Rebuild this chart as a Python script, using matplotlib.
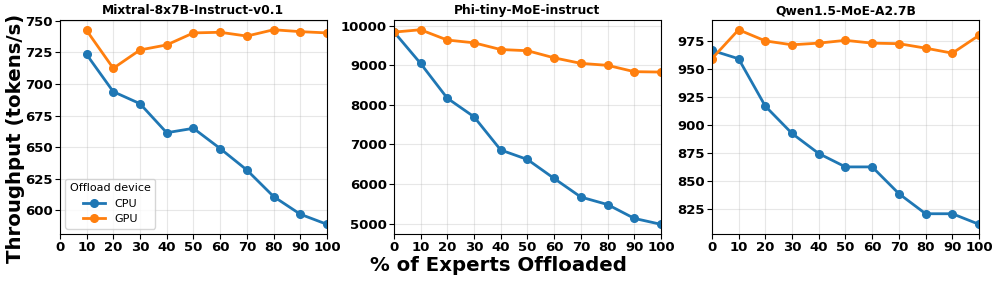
import matplotlib
matplotlib.use("Agg")
import matplotlib.pyplot as plt

# % of experts offloaded
x_mixtral = [10, 20, 30, 40, 50, 60, 70, 80, 90, 100]
x_full = [0, 10, 20, 30, 40, 50, 60, 70, 80, 90, 100]

# throughput (tokens/s)
mixtral_cpu = [723.5, 694, 684.5, 661.5, 665, 649, 632, 611, 597, 589]
mixtral_gpu = [742.5, 712.5, 727, 731, 740.5, 741, 738, 743, 741.5, 740.5]

phi_cpu = [9850, 9050, 8170, 7700, 6860, 6620, 6140, 5670, 5480, 5130, 4980]
phi_gpu = [9840, 9900, 9640, 9570, 9400, 9370, 9190, 9050, 9000, 8840, 8830]

qwen_cpu = [967, 959.5, 917, 892.5, 874.5, 862.5, 862.5, 838.5, 820.5, 820.5, 811]
qwen_gpu = [959.5, 985.5, 975.5, 972, 973.5, 976, 973.5, 973, 969, 964.5, 980.5]

titles = ["Mixtral-8x7B-Instruct-v0.1", "Phi-tiny-MoE-instruct", "Qwen1.5-MoE-A2.7B"]
xs = [x_mixtral, x_full, x_full]
cpus = [mixtral_cpu, phi_cpu, qwen_cpu]
gpus = [mixtral_gpu, phi_gpu, qwen_gpu]

fig = plt.figure(figsize=(9.97, 2.82), dpi=100)
lefts = [0.060, 0.395, 0.714]
axes = [fig.add_axes([l, 0.170, 0.268, 0.759]) for l in lefts]

for ax, title, x, cpu, gpu in zip(axes, titles, xs, cpus, gpus):
    ax.plot(x, cpu, marker="o", color="#1f77b4", lw=2, ms=5.5, label="CPU")
    ax.plot(x, gpu, marker="o", color="#ff7f0e", lw=2, ms=5.5, label="GPU")
    ax.set_xlim(0, 100)
    ax.set_xticks(range(0, 101, 10))
    ax.set_title(title, fontsize=8.8, fontweight="bold", pad=4)
    ax.grid(True, alpha=0.3)
    for lab in ax.get_xticklabels() + ax.get_yticklabels():
        lab.set_fontweight("bold")
    ax.tick_params(labelsize=9.5, pad=1.5)

# shared axis labels, centred on the figure
fig.text(0.016, 0.51, "Throughput (tokens/s)", fontsize=14.2, fontweight="bold",
         rotation=90, ha="center", va="center")
fig.text(0.5, 0.06, "% of Experts Offloaded", fontsize=14.2, fontweight="bold",
         ha="center", va="center")
axes[0].legend(title="Offload device", loc="lower left", fontsize=8, title_fontsize=8)

fig.savefig("out.png", dpi=100)
